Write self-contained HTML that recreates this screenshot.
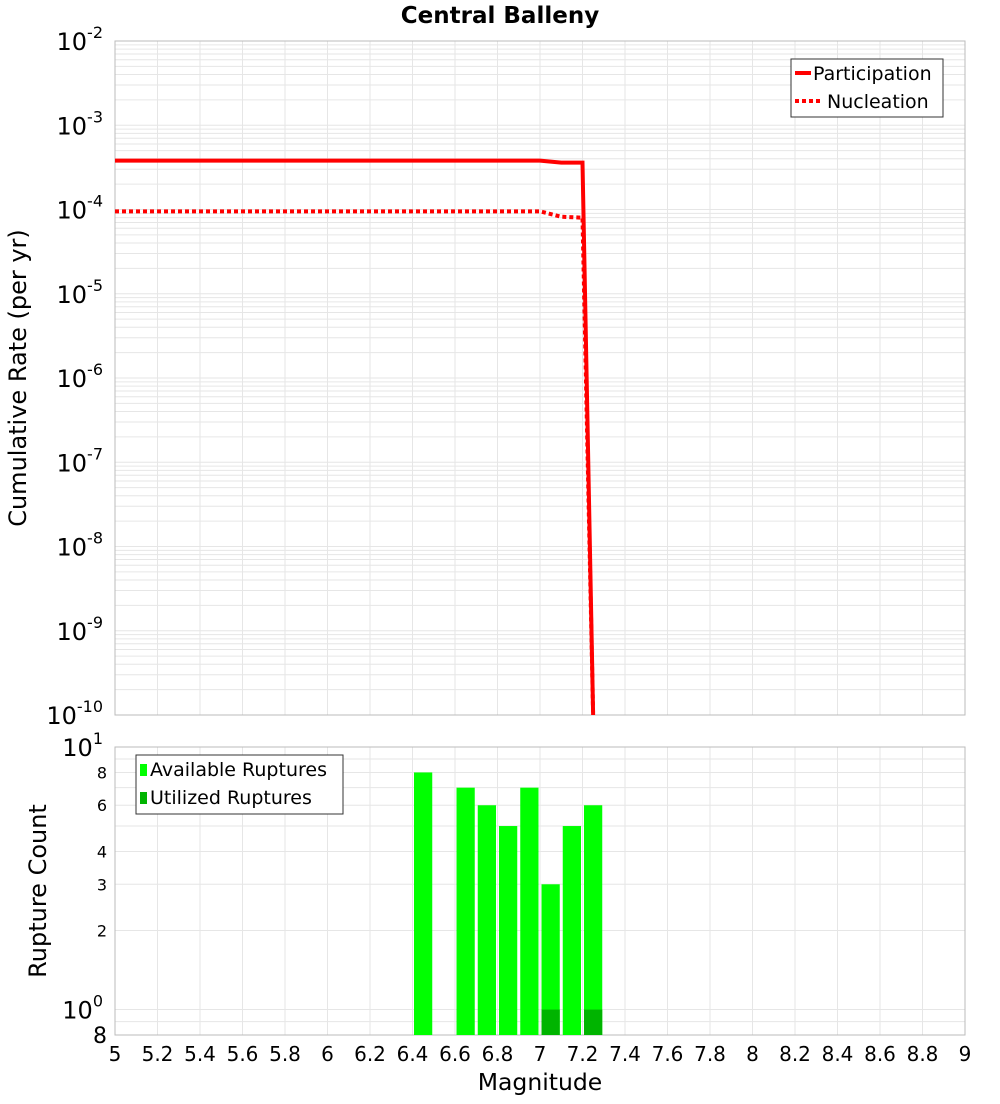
<!DOCTYPE html>
<html><head><meta charset="utf-8"><style>
body{margin:0;background:#fff;font-family:"DejaVu Sans","Liberation Sans",sans-serif}
svg text{font-family:"DejaVu Sans","Liberation Sans",sans-serif}
</style></head><body>
<svg id="c" width="1000" height="1100" xmlns="http://www.w3.org/2000/svg"></svg>
<script>
const magTicks=[5,5.2,5.4,5.6,5.8,6,6.2,6.4,6.6,6.8,7,7.2,7.4,7.6,7.8,8,8.2,8.4,8.6,8.8,9];
const partMags=[5,7.0,7.1,7.2,7.25];
const partRates=[3.8e-4,3.8e-4,3.6e-4,3.6e-4,1e-10];
const nuclMags=[5,7.0,7.1,7.2,7.25];
const nuclRates=[9.5e-5,9.5e-5,8.2e-5,8.0e-5,1e-10];
const binMags=[6.45,6.65,6.75,6.85,6.95,7.05,7.15,7.25];
const availCounts=[8,7,6,5,7,3,5,6];
const usedCounts=[0,0,0,0,0,1,0,1];
const topDecades=[-2,-3,-4,-5,-6,-7,-8,-9,-10];
const botTicks=[2,3,4,6,8];

const S=document.getElementById('c'),NS='http://www.w3.org/2000/svg';
function mk(t,a,p,txt){const e=document.createElementNS(NS,t);for(const k in a)e.setAttribute(k,a[k]);if(txt!==undefined)e.textContent=txt;(p||S).appendChild(e);return e;}
const X0=115,X1=965;
const xs=m=>X0+(m-5)/4*(X1-X0);
const T0=41,T1=715;
const ys=v=>T0+(-2-Math.log10(v))*(T1-T0)/8;
const B0=747,B1=1035;
const yb=v=>B0+(1-Math.log10(v))*(B1-B0)/(1-Math.log10(0.8));

mk('text',{x:500,y:23,'text-anchor':'middle','font-size':23,'font-weight':'bold',},null,'Central Balleny');
const gt=mk('g',{});
for(let d=-10;d<-2;d++)for(let k=1;k<10;k++){const y=ys(k*Math.pow(10,d));mk('line',{x1:X0,x2:X1,y1:y,y2:y,stroke:'#e6e6e6','stroke-width':1},gt);}
magTicks.forEach(m=>{const x=xs(m);mk('line',{x1:x,x2:x,y1:T0,y2:T1,stroke:'#e6e6e6'},gt);mk('line',{x1:x,x2:x,y1:B0,y2:B1,stroke:'#e6e6e6'},gt);});
mk('rect',{x:X0,y:T0,width:X1-X0,height:T1-T0,fill:'none',stroke:'#bbb',});
topDecades.forEach(d=>{const y=ys(Math.pow(10,d));const t=mk('text',{x:103,y:y+9,'text-anchor':'end','font-size':24,});t.textContent='10';mk('tspan',{dy:-12,'font-size':16},t,String(d));});
mk('text',{transform:'translate(26,378) rotate(-90)','text-anchor':'middle','font-size':24,},null,'Cumulative Rate (per yr)');
mk('polyline',{points:partMags.map((m,i)=>xs(m)+','+ys(partRates[i])).join(' '),fill:'none',stroke:'#f00','stroke-width':4,});
mk('polyline',{points:nuclMags.map((m,i)=>xs(m)+','+ys(nuclRates[i])).join(' '),fill:'none',stroke:'#f00','stroke-width':4,'stroke-dasharray':'4,3',});
const lg=mk('g',{});
mk('rect',{x:791,y:59,width:152,height:58,fill:'#fff',stroke:'#333'},lg);
mk('line',{x1:795,x2:811,y1:73,y2:73,stroke:'#f00','stroke-width':4},lg);
mk('text',{x:813,y:80,'font-size':19},lg,'Participation');
mk('line',{x1:795,x2:823,y1:101,y2:101,stroke:'#f00','stroke-width':4,'stroke-dasharray':'4,3'},lg);
mk('text',{x:827,y:108,'font-size':19},lg,'Nucleation');
const gb=mk('g',{});
[0.8,0.9,1,2,3,4,5,6,7,8,9,10].forEach(v=>{const y=yb(v);mk('line',{x1:X0,x2:X1,y1:y,y2:y,stroke:'#e6e6e6'},gb);});
mk('rect',{x:X0,y:B0,width:X1-X0,height:B1-B0,fill:'none',stroke:'#bbb',});
binMags.forEach((m,i)=>{
 const x=xs(m-0.05)+1.5,w=xs(m+0.05)-xs(m-0.05)-3;
 const b=mk('rect',{x:x,y:yb(availCounts[i]),width:w,height:B1-yb(availCounts[i]),fill:'#00ff00'});
 
 if(usedCounts[i]>0){const u=mk('rect',{x:x,y:yb(usedCounts[i]),width:w,height:B1-yb(usedCounts[i]),fill:'#00b400'});
 }
});
botTicks.forEach(v=>mk('text',{x:107,y:yb(v)+6,'text-anchor':'end','font-size':16,},null,String(v)));
[[10,'1'],[1,'0']].forEach(([v,e])=>{const t=mk('text',{x:103,y:yb(v)+9,'text-anchor':'end','font-size':24,});t.textContent='10';mk('tspan',{dy:-12,'font-size':16},t,e);});
mk('text',{x:107,y:1043,'text-anchor':'end','font-size':22,},null,'8');
mk('text',{transform:'translate(46,891) rotate(-90)','text-anchor':'middle','font-size':24,},null,'Rupture Count');
const bl=mk('g',{});
mk('rect',{x:136,y:755,width:207,height:59,fill:'#fff',stroke:'#333'},bl);
mk('rect',{x:140,y:764,width:7,height:12,fill:'#00ff00'},bl);
mk('text',{x:150,y:776,'font-size':19},bl,'Available Ruptures');
mk('rect',{x:140,y:792,width:7,height:12,fill:'#00b400'},bl);
mk('text',{x:150,y:804,'font-size':19},bl,'Utilized Ruptures');
magTicks.forEach(m=>mk('text',{x:xs(m),y:1061,'text-anchor':'middle','font-size':20,},null,String(m)));
mk('text',{x:540,y:1090,'text-anchor':'middle','font-size':23.5,},null,'Magnitude');
</script>
</body></html>
